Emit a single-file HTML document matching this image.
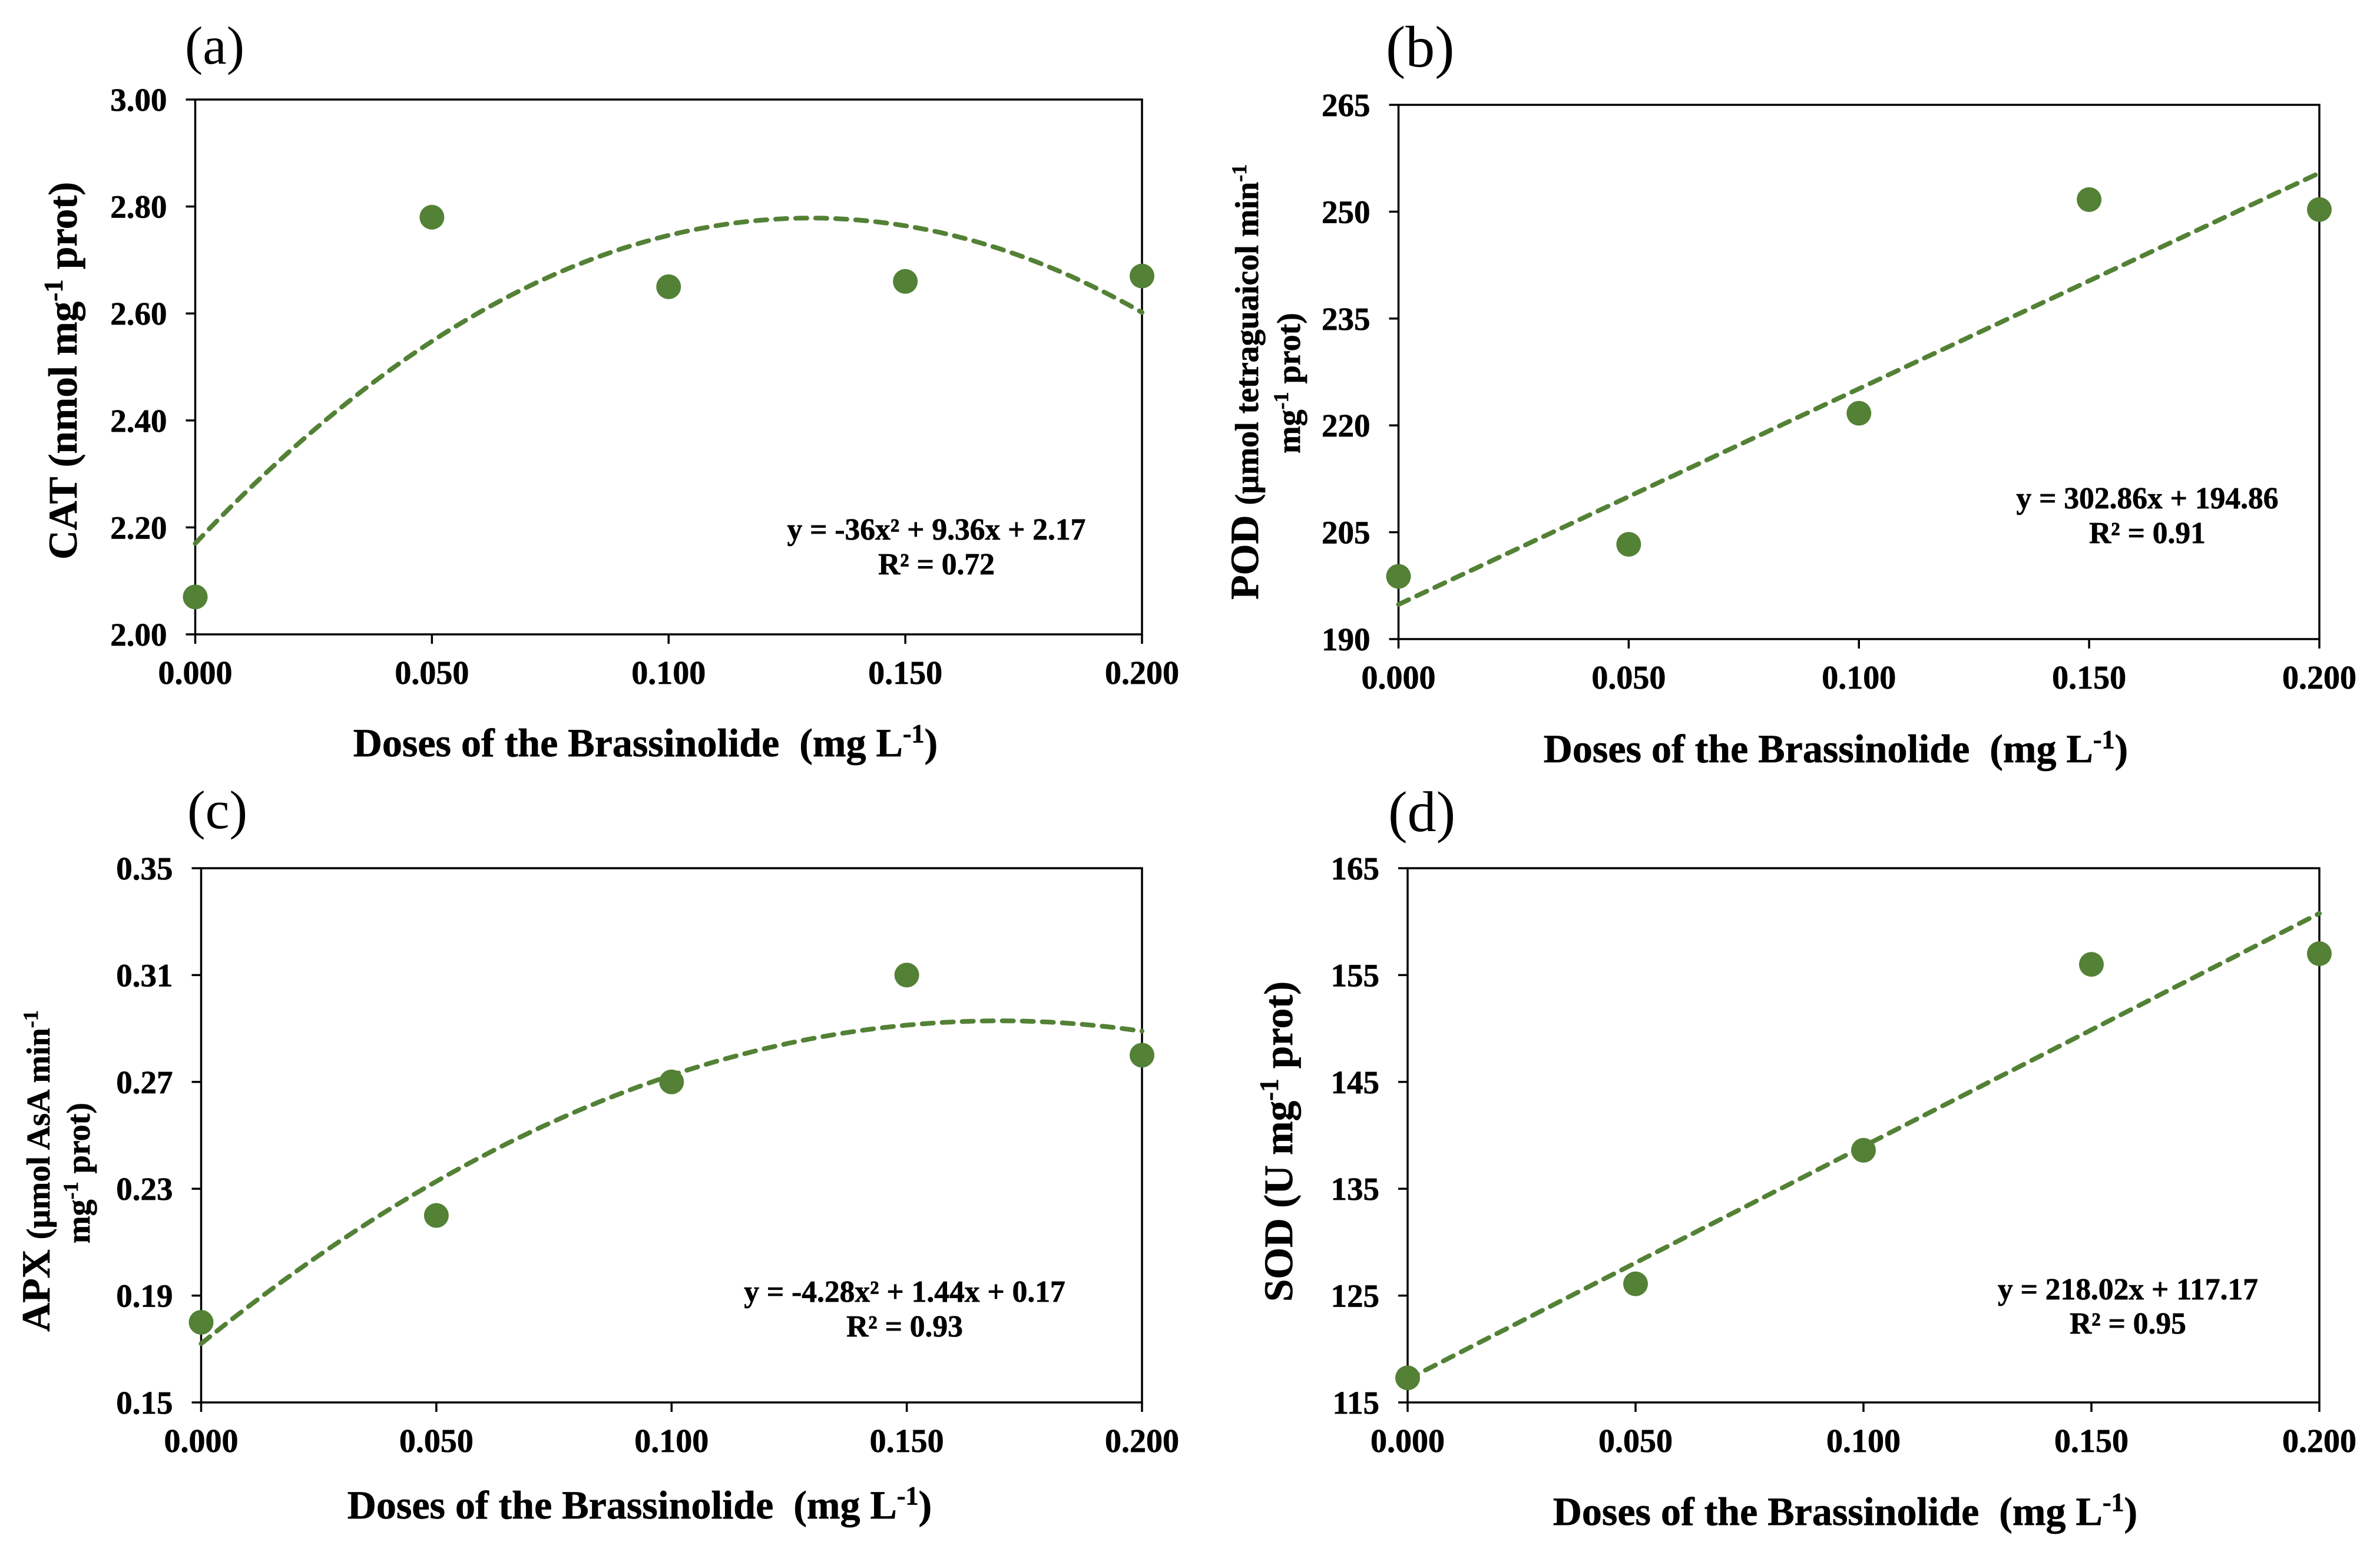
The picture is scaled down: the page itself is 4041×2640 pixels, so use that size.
<!DOCTYPE html>
<html lang="en">
<head>
<meta charset="utf-8">
<title>Antioxidant enzyme responses to Brassinolide doses</title>
<style>
  html, body { margin: 0; padding: 0; background: #fff; }
  svg { display: block; }
  text { font-family: "Liberation Serif", serif; fill: #000; }
  .b { font-weight: 700; stroke: #000; stroke-width: 0.7px; }
</style>
</head>
<body>
<svg id="figure" xmlns="http://www.w3.org/2000/svg" width="4041" height="2640" viewBox="0 0 4041 2640">
  <rect x="0" y="0" width="4041" height="2640" fill="#ffffff"/>

  <text x="314" y="108" font-size="91">(a)</text>
  <text x="2353" y="113" font-size="100">(b)</text>
  <text x="318" y="1406" font-size="92">(c)</text>
  <text x="2357" y="1411" font-size="98">(d)</text>

  <text class="b" x="1096" y="1284" font-size="68" text-anchor="middle" xml:space="preserve">Doses of the Brassinolide  (mg L<tspan dy="-24" font-size="44">-1</tspan><tspan dy="24">)</tspan></text>
  <text class="b" x="3117" y="1294" font-size="68" text-anchor="middle" xml:space="preserve">Doses of the Brassinolide  (mg L<tspan dy="-24" font-size="44">-1</tspan><tspan dy="24">)</tspan></text>
  <text class="b" x="1086" y="2578" font-size="68" text-anchor="middle" xml:space="preserve">Doses of the Brassinolide  (mg L<tspan dy="-24" font-size="44">-1</tspan><tspan dy="24">)</tspan></text>
  <text class="b" x="3133" y="2589" font-size="68" text-anchor="middle" xml:space="preserve">Doses of the Brassinolide  (mg L<tspan dy="-24" font-size="44">-1</tspan><tspan dy="24">)</tspan></text>

  <text class="b" transform="translate(130 950) rotate(-90)" font-size="69">CAT (nmol mg<tspan dy="-24" font-size="45">-1</tspan><tspan dy="24"> prot)</tspan></text>

  <g>
    <text class="b" transform="translate(2136 1018) rotate(-90)" font-size="56"><tspan font-size="68">POD </tspan>(µmol tetraguaicol min<tspan dy="-20" font-size="36">-1</tspan></text>
    <text class="b" transform="translate(2207 770) rotate(-90)" font-size="56">mg<tspan dy="-20" font-size="36">-1</tspan><tspan dy="20"> prot)</tspan></text>
  </g>

  <g>
    <text class="b" transform="translate(84 2261) rotate(-90)" font-size="56"><tspan font-size="68">APX </tspan>(µmol AsA min<tspan dy="-20" font-size="36">-1</tspan></text>
    <text class="b" transform="translate(152 2111) rotate(-90)" font-size="56">mg<tspan dy="-20" font-size="36">-1</tspan><tspan dy="20"> prot)</tspan></text>
  </g>

  <text class="b" transform="translate(2194 2210) rotate(-90)" font-size="69">SOD (U mg<tspan dy="-24" font-size="45">-1</tspan><tspan dy="24"> prot)</tspan></text>

  <g font-size="51.5" text-anchor="middle">
    <text class="b" x="1590" y="916">y = -36x² + 9.36x + 2.17</text>
    <text class="b" x="1590" y="975">R² = 0.72</text>
  </g>
  <g font-size="51.5" text-anchor="middle">
    <text class="b" x="3646" y="863">y = 302.86x + 194.86</text>
    <text class="b" x="3646" y="922">R² = 0.91</text>
  </g>
  <g font-size="51.5" text-anchor="middle">
    <text class="b" x="1536" y="2210">y = -4.28x² + 1.44x + 0.17</text>
    <text class="b" x="1536" y="2269">R² = 0.93</text>
  </g>
  <g font-size="51.5" text-anchor="middle">
    <text class="b" x="3613" y="2206">y = 218.02x + 117.17</text>
    <text class="b" x="3613" y="2264">R² = 0.95</text>
  </g>
</svg>

<script>
// Shared x-axis data
const doses = [0, 0.05, 0.1, 0.15, 0.2];
const xTickLabels = ["0.000", "0.050", "0.100", "0.150", "0.200"];

// Panel (a) CAT
const catValues = [2.07, 2.78, 2.65, 2.66, 2.67];
const catTicks = ["2.00", "2.20", "2.40", "2.60", "2.80", "3.00"];
const catTrend = [-36, 9.36, 2.17];

// Panel (b) POD
const podValues = [198.8, 203.3, 221.7, 251.7, 250.3];
const podTicks = ["190", "205", "220", "235", "250", "265"];
const podTrend = [0, 302.86, 194.86];

// Panel (c) APX
const apxValues = [0.18, 0.22, 0.27, 0.31, 0.28];
const apxTicks = ["0.15", "0.19", "0.23", "0.27", "0.31", "0.35"];
const apxTrend = [-4.2, 1.425, 0.172];

// Panel (d) SOD
const sodValues = [117.3, 126.1, 138.6, 156, 157];
const sodTicks = ["115", "125", "135", "145", "155", "165"];
const sodTrend = [0, 218.02, 117.17];

const NS = "http://www.w3.org/2000/svg";
const figure = document.getElementById("figure");
const GREEN = "#538135";

function make(tag, attrs, parent) {
  const el = document.createElementNS(NS, tag);
  for (const k in attrs) el.setAttribute(k, attrs[k]);
  parent.appendChild(el);
  return el;
}

function drawPanel(id, box, yTicks, values, coef) {
  const xMin = doses[0];
  const xMax = doses[doses.length - 1];
  const yMin = parseFloat(yTicks[0]);
  const yMax = parseFloat(yTicks[yTicks.length - 1]);
  const xScale = v => box.left + (v - xMin) / (xMax - xMin) * (box.right - box.left);
  const yScale = v => box.bottom - (v - yMin) / (yMax - yMin) * (box.bottom - box.top);

  const g = make("g", {}, figure);
  
  

  const frame = make("rect", {
    x: box.left, y: box.top, width: box.right - box.left, height: box.bottom - box.top,
    fill: "none", stroke: "#000", "stroke-width": 3.5
  }, g);
  
  

  yTicks.forEach(label => {
    const y = yScale(parseFloat(label));
    const tick = make("line", {
      x1: box.left - 16, x2: box.left, y1: y, y2: y, stroke: "#000", "stroke-width": 3.5
    }, g);
    
    
    const text = make("text", {
      class: "b", x: box.left - 48, y: y + 19, "font-size": 55, "text-anchor": "end"
    }, g);
    text.textContent = label;
    
    
  });

  doses.forEach((d, i) => {
    const x = xScale(d);
    const tick = make("line", {
      x1: x, x2: x, y1: box.bottom, y2: box.bottom + 16, stroke: "#000", "stroke-width": 3.5
    }, g);
    
    
    const text = make("text", {
      class: "b", x: x, y: box.bottom + 84, "font-size": 56, "text-anchor": "middle"
    }, g);
    text.textContent = xTickLabels[i];
    
    
  });

  const parts = [];
  for (let i = 0; i <= 80; i++) {
    const t = xMin + (xMax - xMin) * i / 80;
    const v = coef[0] * t * t + coef[1] * t + coef[2];
    parts.push(xScale(t).toFixed(1) + "," + yScale(v).toFixed(1));
  }
  const trend = make("polyline", {
    points: parts.join(" "), fill: "none", stroke: GREEN, "stroke-width": 8,
    "stroke-dasharray": "19 15", "stroke-linecap": "round", "stroke-linejoin": "round"
  }, g);
  
  

  values.forEach((v, i) => {
    const dot = make("circle", { cx: xScale(doses[i]), cy: yScale(v), r: 21, fill: GREEN }, g);
    
    
  });
}

drawPanel("a", { left: 331.5, right: 1939, top: 169, bottom: 1077 }, catTicks, catValues, catTrend);
drawPanel("b", { left: 2374.5, right: 3938, top: 178, bottom: 1085 }, podTicks, podValues, podTrend);
drawPanel("c", { left: 341.5, right: 1939, top: 1474, bottom: 2381 }, apxTicks, apxValues, apxTrend);
drawPanel("d", { left: 2390, right: 3938, top: 1474, bottom: 2381 }, sodTicks, sodValues, sodTrend);
</script>
</body>
</html>
